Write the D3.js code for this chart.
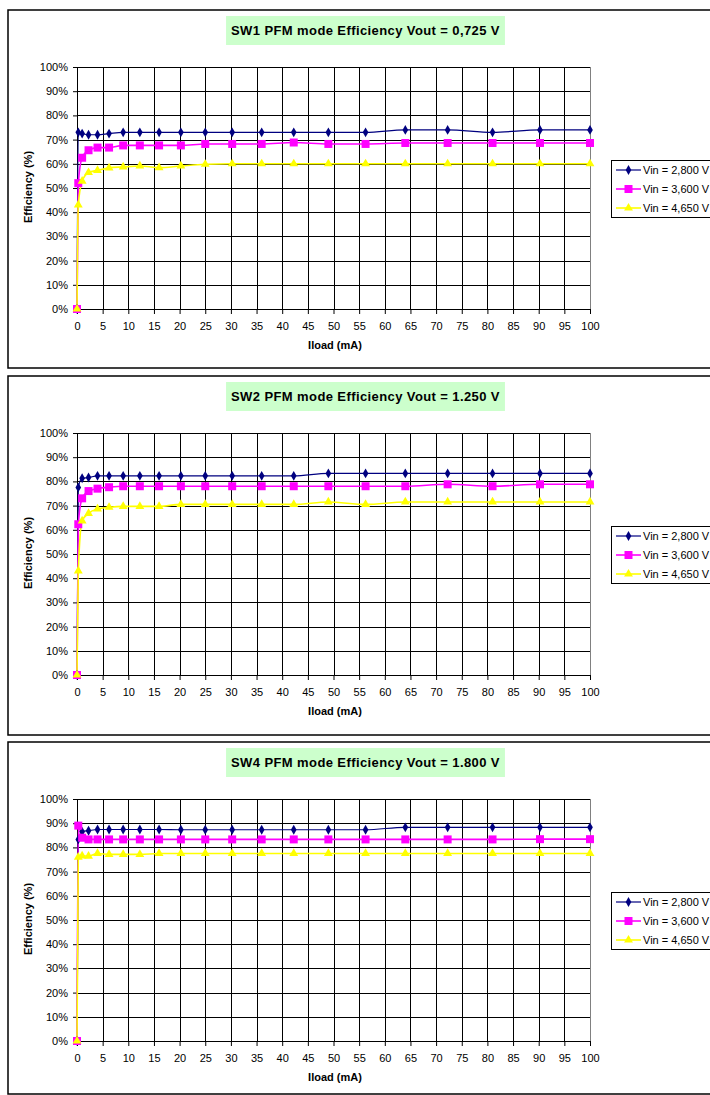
<!DOCTYPE html>
<html>
<head>
<meta charset="utf-8">
<script src="https://cdn.jsdelivr.net/npm/d3@7"></script>
<style>
  body { margin: 0; background: #fff; }
  text { font-family: "Liberation Sans", Arial, sans-serif; }
</style>
</head>
<body>
<svg id="chart" width="710" height="1095"></svg>
<script>
// load current (mA), shared by all three panels
const loadMA = [0, 0.25, 1, 2.25, 4, 6.25, 9, 12.25, 16, 20.25, 25, 30.25, 36, 42.25, 49, 56.25, 64, 72.25, 81, 90.25, 100];

const xTicks = d3.range(0, 101, 5);
const yTicks = d3.range(0, 101, 10);
const vinLabels = ["Vin = 2,800 V", "Vin = 3,600 V", "Vin = 4,650 V"];
const titles = [
  "SW1 PFM mode Efficiency Vout = 0,725 V",
  "SW2 PFM mode Efficiency Vout = 1.250 V",
  "SW4 PFM mode Efficiency Vout = 1.800 V"
];

// efficiency (%)
const sw1Vin2800 = [0, 73, 72.5, 72, 72, 72.5, 73, 73, 73, 73, 73, 73, 73, 73, 73, 73, 74, 74, 73, 74, 74];
const sw1Vin3600 = [0, 52, 62.5, 65.6, 66.7, 66.7, 67.6, 67.6, 67.6, 67.6, 68.2, 68.2, 68.2, 68.8, 68.2, 68.2, 68.6, 68.6, 68.6, 68.6, 68.6];
const sw1Vin4650 = [0, 43, 52.8, 56.4, 57.3, 58.3, 58.7, 59.1, 58.4, 59.1, 59.8, 60, 60, 60, 60, 60, 60, 60, 60, 60, 60];

const sw2Vin2800 = [0, 77.5, 81.3, 81.6, 82.3, 82.3, 82.3, 82.3, 82.3, 82.3, 82.3, 82.3, 82.3, 82.3, 83.3, 83.3, 83.3, 83.3, 83.3, 83.3, 83.3];
const sw2Vin3600 = [0, 62.3, 73, 76, 77, 77.6, 78, 78, 78, 78, 78, 78, 78, 78, 78, 78, 78, 78.8, 78, 78.8, 78.8];
const sw2Vin4650 = [0, 43, 63.7, 66.8, 68.6, 69.3, 69.7, 69.7, 69.7, 70.5, 70.5, 70.5, 70.5, 70.5, 71.5, 70.5, 71.5, 71.5, 71.5, 71.5, 71.5];

const sw4Vin2800 = [0, 83.3, 86.5, 86.9, 87.4, 87.4, 87.4, 87.4, 87.4, 87.3, 87.3, 87.3, 87.3, 87.3, 87.3, 87.3, 88.3, 88.3, 88.3, 88.3, 88.3];
const sw4Vin3600 = [0, 89, 84, 83.3, 83.3, 83.3, 83.3, 83.3, 83.3, 83.3, 83.3, 83.3, 83.3, 83.3, 83.3, 83.3, 83.3, 83.3, 83.3, 83.4, 83.4];
const sw4Vin4650 = [0, 76, 76.5, 76.4, 77.5, 77.1, 77.1, 77.1, 77.5, 77.5, 77.5, 77.5, 77.5, 77.5, 77.5, 77.5, 77.5, 77.5, 77.5, 77.5, 77.5];

const panels = [
  { title: titles[0], series: [sw1Vin2800, sw1Vin3600, sw1Vin4650] },
  { title: titles[1], series: [sw2Vin2800, sw2Vin3600, sw2Vin4650] },
  { title: titles[2], series: [sw4Vin2800, sw4Vin3600, sw4Vin4650] }
];

const styles = [
  { color: "#000080", width: 1.2, symbol: d3.symbolDiamond, size: 28 },
  { color: "#ff00ff", width: 1.6, symbol: d3.symbolSquare, size: 64 },
  { color: "#ffff00", width: 1.6, symbol: d3.symbolTriangle, size: 34 }
];

const svg = d3.select("#chart");
const panelTops = [10, 376, 742];
const panelHeights = [358, 359, 352];

panels.forEach((p, i) => drawPanel(p, panelTops[i], panelHeights[i]));

function drawPanel(panel, top, h) {
  const g = svg.append("g");

  g.append("rect")
    .attr("x", 8).attr("y", top)
    .attr("width", 720).attr("height", h)
    .attr("fill", "#fff").attr("stroke", "#000").attr("stroke-width", 1.5);

  const x = d3.scaleLinear().domain([0, 100]).range([77, 590]);
  const y = d3.scaleLinear().domain([0, 100]).range([top + 299, top + 57]);

  // grid
  g.append("g")
    .selectAll("line")
    .data(xTicks.filter(d => d > 0))
    .join("line")
    .attr("x1", d => Math.round(x(d)) + 0.5).attr("x2", d => Math.round(x(d)) + 0.5)
    .attr("y1", y(0)).attr("y2", y(100))
    .attr("stroke", d => d === 100 ? "#808080" : "#000").attr("stroke-width", 1);

  g.append("g")
    .selectAll("line")
    .data(yTicks.filter(d => d > 0))
    .join("line")
    .attr("x1", x(0)).attr("x2", x(100))
    .attr("y1", d => Math.round(y(d)) + 0.5).attr("y2", d => Math.round(y(d)) + 0.5)
    .attr("stroke", "#000").attr("stroke-width", 1);

  // axes
  const yAxis = g.append("g")
    .attr("transform", `translate(${x(0)},0)`)
    .call(d3.axisLeft(y).tickValues(yTicks).tickFormat(d => d + "%").tickSize(4).tickPadding(5).tickSizeOuter(0));
  const xAxis = g.append("g")
    .attr("transform", `translate(0,${y(0)})`)
    .call(d3.axisBottom(x).tickValues(xTicks).tickSize(5).tickPadding(8).tickSizeOuter(0));

  [yAxis, xAxis].forEach(a => {
    a.selectAll("text").attr("font-size", 11).attr("fill", "#000")
      .attr("font-family", "'Liberation Sans', Arial, sans-serif");
    a.selectAll("line, path").attr("stroke", "#000");
  });

  // title
  const titleBox = g.append("rect")
    .attr("y", top + 6).attr("height", 29)
    .attr("fill", "#ccffcc");
  const title = g.append("text")
    .attr("x", 365.5).attr("y", top + 25)
    .attr("text-anchor", "middle")
    .attr("font-size", 13).attr("font-weight", "bold")
    .attr("letter-spacing", 0.4)
    .text(panel.title);
  const tw = title.node().getComputedTextLength();
  titleBox.attr("x", 365.5 - tw / 2 - 5).attr("width", tw + 10);

  // axis titles
  g.append("text")
    .attr("transform", `translate(32,${top + 177}) rotate(-90)`)
    .attr("text-anchor", "middle")
    .attr("font-size", 11).attr("font-weight", "bold")
    .text("Efficiency (%)");

  g.append("text")
    .attr("x", 335).attr("y", top + 339)
    .attr("text-anchor", "middle")
    .attr("font-size", 11).attr("font-weight", "bold")
    .text("Iload (mA)");

  // series
  const line = d3.line()
    .x((d, i) => x(loadMA[i]))
    .y(d => y(d))
    .curve(d3.curveMonotoneX);

  panel.series.forEach((vals, si) => {
    const s = styles[si];
    g.append("path")
      .datum(vals)
      .attr("fill", "none")
      .attr("stroke", s.color)
      .attr("stroke-width", s.width)
      .attr("d", line);
  });

  panel.series.forEach((vals, si) => {
    const s = styles[si];
    g.append("g")
      .selectAll("path")
      .data(vals)
      .join("path")
      .attr("transform", (d, i) => `translate(${x(loadMA[i])},${y(d)})`)
      .attr("d", d3.symbol().type(s.symbol).size(s.size))
      .attr("fill", s.color);
  });

  // legend
  const lg = g.append("g").attr("transform", `translate(611,${top + 150})`);
  lg.append("rect")
    .attr("x", 0.5).attr("y", 0.5)
    .attr("width", 110).attr("height", 57)
    .attr("fill", "#fff").attr("stroke", "#000").attr("stroke-width", 1);

  vinLabels.forEach((label, li) => {
    const s = styles[li];
    const ry = 10 + li * 19;
    lg.append("line")
      .attr("x1", 5).attr("x2", 30).attr("y1", ry).attr("y2", ry)
      .attr("stroke", s.color).attr("stroke-width", s.width);
    lg.append("path")
      .attr("transform", `translate(17.5,${ry})`)
      .attr("d", d3.symbol().type(s.symbol).size(s.size))
      .attr("fill", s.color);
    lg.append("text")
      .attr("x", 32).attr("y", ry + 4)
      .attr("font-size", 11)
      .text(label);
  });
}
</script>
</body>
</html>
